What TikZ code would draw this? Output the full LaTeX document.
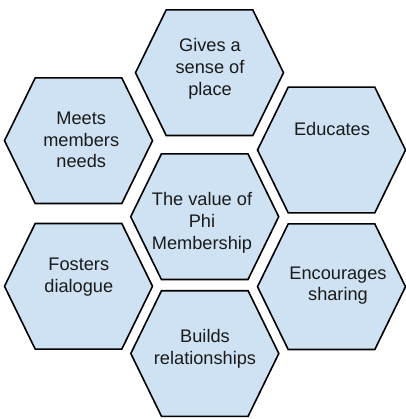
\documentclass[tikz,border=0pt]{standalone}
\usepackage{fontspec}
\setmainfont{Liberation Sans}
\definecolor{cellfill}{HTML}{CFE2F3}
\definecolor{celltext}{HTML}{1A1A1A}
\begin{document}
\begin{tikzpicture}[x=1pt,y=-1pt,
  hexline/.style={draw=black, fill=cellfill, line width=1.6pt, line join=miter},
  hexa/.pic={\path[hexline] (-74,0) -- (-43.3,-62.8) -- (43.3,-62.8) -- (74,0) -- (43.3,62.8) -- (-43.3,62.8) -- cycle;},
  cell/.style={align=center, inner sep=0pt, font=\fontsize{18.2}{21.7}\selectfont, text=celltext}]
\useasboundingbox (0,0) rectangle (405,419);
% hexagons
\pic (hTop) at (209.5,72.7) {hexa};
\pic (hMeets) at (78.5,140.7) {hexa};
\pic (hEdu) at (331.5,150) {hexa};
\pic (hCenter) at (204.7,216.7) {hexa};
\pic (hFost) at (78.5,286.3) {hexa};
\pic (hEnc) at (331.5,286.7) {hexa};
\pic (hBuild) at (204.8,353.5) {hexa};
% labels
\node[cell] (tTop) at (210,69.3) {\strut Gives a\\\strut sense of\\\strut place};
\node[cell] (tMeets) at (81.2,141.7) {\strut Meets\\\strut members\\\strut needs};
\node[cell] (tEdu) at (332,130.7) {\strut Educates};
\node[cell] (tCenter) at (202,223.2) {\strut The value of\\\strut Phi\\\strut Membership};
\node[cell] (tFost) at (78.8,277.4) {\strut Fosters\\\strut dialogue};
\node[cell] (tEnc) at (338,285.8) {\strut Encourages\\\strut sharing};
\node[cell] (tBuild) at (205,349.2) {\strut Builds\\\strut relationships};
\end{tikzpicture}
\end{document}
